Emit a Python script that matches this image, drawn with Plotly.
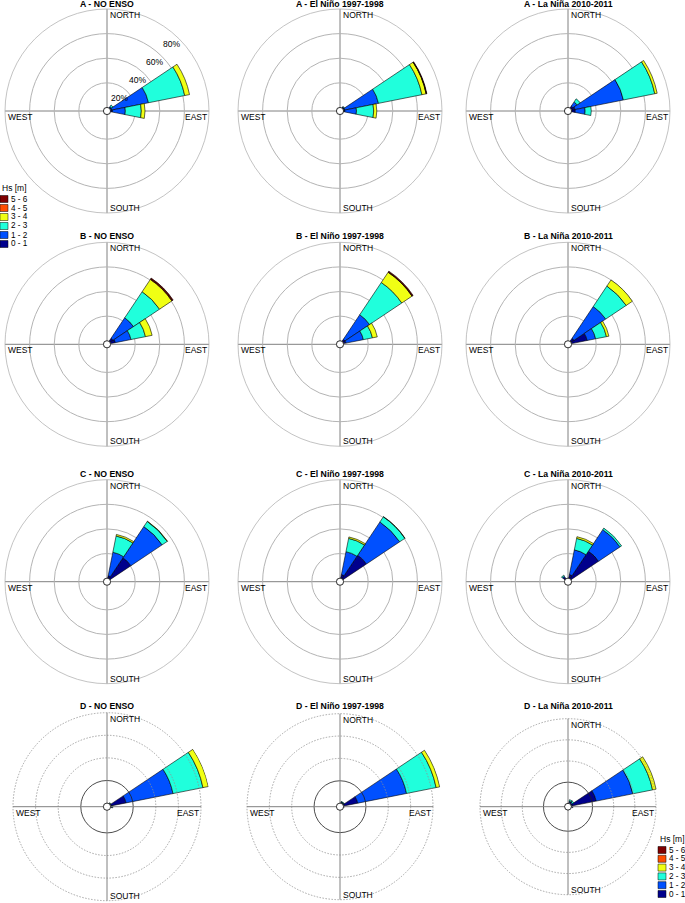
import math
import plotly.graph_objects as go

W, H = 685, 915   # page window is 685x903; a few px below it are off-screen

BIN_LABELS = ["0 - 1", "1 - 2", "2 - 3", "3 - 4", "4 - 5", "5 - 6"]
BIN_COLORS = ["#00008c", "#0050ff", "#20ffdc", "#f0ff14", "#ff4d00", "#800000"]
DIRECTIONS = [315, 22.5, 45, 67.5, 90]   # NW, NNE, NE, ENE, E
RINGS = [20, 40, 60, 80]
CARDINALS = ["NORTH", "EAST", "SOUTH", "WEST"]
CARDINAL_DEG = [0, 90, 180, 270]
LEGEND_TITLE = "Hs [m]"

TITLES = [
    "A - NO ENSO", "A - El Niño 1997-1998", "A - La Niña 2010-2011",
    "B - NO ENSO", "B - El Niño 1997-1998", "B - La Niña 2010-2011",
    "C - NO ENSO", "C - El Niño 1997-1998", "C - La Niña 2010-2011",
    "D - NO ENSO", "D - El Niño 1997-1998", "D - La Niña 2010-2011",
]

# frequency (%) : one row per Hs bin (0-1 ... 5-6), one column per direction
A_NO_ENSO = [[0, 0, 0.5, 1, 1.5], [0, 0, 1, 30.5, 10.5], [0, 0, 1.5, 30, 13],
             [0, 0, 0, 4, 3], [0, 0, 0, 0, 0], [0, 0, 0, 0, 0]]
A_EL_NINO = [[0, 0, 0.5, 1, 1], [0, 0, 0.5, 28, 9.5], [0, 0, 0.5, 36, 14],
             [0, 0, 0, 3.5, 2.5], [0, 0, 0, 0.2, 0], [0, 0, 0, 0.4, 0]]
A_LA_NINA = [[0, 0, 2, 3, 3], [0, 0, 4, 40, 8], [0, 0, 3, 26, 5],
             [0, 0, 0, 2, 0], [0, 0, 0, 0, 0], [0, 0, 0, 0, 0]]
B_NO_ENSO = [[0, 0, 3, 4, 0], [0, 0, 20, 13, 0], [0, 0, 25.5, 12, 0],
             [0, 0, 12, 5.5, 0], [0, 0, 0.5, 0, 0], [0, 0, 0.8, 0, 0]]
B_EL_NINO = [[0, 0, 2, 2, 0], [0, 0, 24, 14.5, 0], [0, 0, 31.5, 7.5, 0],
             [0, 0, 10, 4, 0], [0, 0, 0.3, 0, 0], [0, 0, 0.8, 0, 0]]
B_LA_NINA = [[0, 0, 3, 13, 0], [0, 0, 31, 7, 0], [0, 0, 20, 9, 0],
             [0, 0, 6, 2, 0], [0, 0, 0, 0, 0], [0, 0, 0, 0, 0]]
C_NO_ENSO = [[0, 2, 20.5, 0, 0], [0, 19.5, 30.5, 0, 0], [0, 13.5, 5, 0, 0],
             [0, 1.3, 0.3, 0, 0], [0, 0, 0, 0, 0], [0, 0, 0, 0, 0]]
C_EL_NINO = [[0, 3, 23, 0, 0], [0, 19, 32.5, 0, 0], [0, 11, 5, 0, 0],
             [0, 1.2, 0.2, 0, 0], [0, 0, 0, 0, 0], [0, 0, 0, 0, 0]]
C_LA_NINA = [[1.5, 3, 27, 0, 0], [1, 20.5, 21, 0, 0], [1, 9.5, 1.5, 0, 0],
             [0, 1.4, 0, 0, 0], [0, 0, 0, 0, 0], [0, 0, 0, 0, 0]]
D_NO_ENSO = [[0, 0, 0.5, 14, 1], [0, 0, 0, 42.4, 0.5], [0, 0, 0.5, 27, 0.5],
             [0, 0, 0, 4.8, 0], [0, 0, 0, 0, 0], [0, 0, 0, 0, 0]]
D_EL_NINO = [[0, 0.5, 0.5, 13, 0.5], [0, 0.5, 0.5, 44.5, 0], [0, 0.5, 0.5, 27, 0],
             [0, 0, 0, 3.2, 0], [0, 0, 0, 0, 0], [0, 0, 0, 0, 0]]
D_LA_NINA = [[0, 1, 1, 24, 1], [0, 1, 1, 35.3, 0.5], [0, 1.5, 1.5, 19, 0],
             [0, 0, 0, 3.4, 0], [0, 0, 0, 0, 0], [0, 0, 0, 0, 0]]

PANEL_DATA = [A_NO_ENSO, A_EL_NINO, A_LA_NINA,
              B_NO_ENSO, B_EL_NINO, B_LA_NINA,
              C_NO_ENSO, C_EL_NINO, C_LA_NINA,
              D_NO_ENSO, D_EL_NINO, D_LA_NINA]

# grid geometry in pixels
COL_X = [107, 340, 568]
ROW_Y = [111, 344.3, 581.7, 806.7]
RING_PX = [102] * 9 + [94, 93, 88]
TITLE_Y = [4, 236, 473.5, 706]
HOLE = 0.035
FONT = "Liberation Sans, Arial, sans-serif"


def px(x):
    return x / W


def py(y):
    return 1 - y / H


def circle(cx, cy, r, **style):
    return dict(type="circle", xref="paper", yref="paper", layer="above",
                x0=px(cx - r), x1=px(cx + r), y0=py(cy + r), y1=py(cy - r), **style)


def seg(xa, ya, xb, yb, **style):
    return dict(type="line", xref="paper", yref="paper", layer="above",
                x0=px(xa), x1=px(xb), y0=py(ya), y1=py(yb), **style)


fig = go.Figure()
annotations = []
shapes = []

for i, (title, data) in enumerate(zip(TITLES, PANEL_DATA)):
    row, col = divmod(i, 3)
    cx, cy = COL_X[col], ROW_Y[row]
    last_row = row == 3
    vmax = 88.5 if last_row else RINGS[-1]
    scale = HOLE + (1 - HOLE) * RINGS[-1] / vmax
    R = min(RING_PX[i] / scale, cx, W - cx, cy, H - cy)
    ring = R * scale
    key = "polar" if i == 0 else "polar%d" % (i + 1)

    def rpx(v):
        return R * (HOLE + (1 - HOLE) * v / vmax)

    for vals, label, color in zip(data, BIN_LABELS, BIN_COLORS):
        fig.add_trace(go.Barpolar(
            r=vals, theta=DIRECTIONS, width=22.5, name=label, subplot=key,
            marker=dict(color=color, line=dict(color="black", width=0.6)),
            showlegend=False,
        ))

    fig.update_layout(**{key: dict(
        domain=dict(x=[px(cx - R), px(cx + R)], y=[py(cy + R), py(cy - R)]),
        hole=HOLE, bgcolor="rgba(0,0,0,0)", barmode="stack",
        radialaxis=dict(
            range=[0, vmax], tickmode="array", tickvals=RINGS, showticklabels=False,
            showline=False, ticks="", layer="below traces", showgrid=not last_row,
            gridcolor="#b4b4b4", gridwidth=0.8,
        ),
        angularaxis=dict(
            direction="clockwise", rotation=90, tickmode="array", tickvals=CARDINAL_DEG,
            showticklabels=False, ticks="", layer="below traces",
            showgrid=not last_row, gridcolor="#808080", gridwidth=1,
            showline=not last_row, linecolor="#b4b4b4", linewidth=0.8,
        ),
    )})

    if last_row:
        # D panels: dotted rings drawn over the bars, solid inner ring
        for v in RINGS:
            if v == RINGS[0]:
                shapes.append(circle(cx, cy, rpx(v), line=dict(color="#202020", width=0.8)))
            else:
                shapes.append(circle(cx, cy, rpx(v), line=dict(color="#909090", width=0.8,
                                                               dash="1.5px,1.5px")))
        shapes.append(seg(cx, cy - ring, cx, cy + ring, line=dict(color="#808080", width=1)))
        shapes.append(seg(cx - ring, cy, cx + ring, cy, line=dict(color="#808080", width=1)))
    shapes.append(circle(cx, cy, R * HOLE, fillcolor="white", line=dict(color="black", width=0.8)))

    if i == 0:
        ang = math.radians(46)
        for v in RINGS:
            d = rpx(v) - 9.5
            annotations.append(dict(text="%d%%" % v, x=px(cx + d * math.cos(ang)),
                                    y=py(cy - d * math.sin(ang)), xanchor="center",
                                    yanchor="middle", font=dict(size=8.5)))

    annotations.append(dict(text="<b>%s</b>" % title, x=px(cx), y=py(TITLE_Y[row]),
                            xanchor="center", yanchor="middle", font=dict(size=8.7)))
    label_pos = [(cx + 1, cy - ring + 6, "left"), (cx + ring, cy + 6, "right"),
                 (cx + 1, cy + ring - 5, "left"), (cx - ring + 1, cy + 6, "left")]
    for name, (lx, ly, anchor) in zip(CARDINALS, label_pos):
        annotations.append(dict(text=name, x=px(lx), y=py(ly), xanchor=anchor,
                                yanchor="middle", font=dict(size=8.5)))


def add_legend(x0, y0, step):
    annotations.append(dict(text=LEGEND_TITLE, x=px(x0), y=py(y0), xanchor="left",
                            yanchor="middle", font=dict(size=8.5)))
    for k, (label, color) in enumerate(zip(BIN_LABELS[::-1], BIN_COLORS[::-1])):
        yy = y0 + 11 + step * k
        shapes.append(dict(type="rect", xref="paper", yref="paper",
                           x0=px(x0), x1=px(x0 + 8), y0=py(yy + 3.5), y1=py(yy - 3.5),
                           fillcolor=color, line=dict(color="black", width=0.5)))
        annotations.append(dict(text=label, x=px(x0 + 9), y=py(yy), xanchor="left",
                                yanchor="middle", font=dict(size=8.2)))


add_legend(0, 188, 9)
add_legend(658, 839, 8.8)

for a in annotations:
    a.update(xref="paper", yref="paper", showarrow=False)

fig.update_layout(
    width=W, height=H, margin=dict(l=0, r=0, t=0, b=0),
    paper_bgcolor="white", plot_bgcolor="white", showlegend=False,
    font=dict(family=FONT, color="black"),
    annotations=annotations, shapes=shapes,
)

# drop the browser's default 8px body margin so the figure starts at the window corner
fig.write_html("out.html", config={"displayModeBar": False},
               post_script="document.body.style.margin='0';")
